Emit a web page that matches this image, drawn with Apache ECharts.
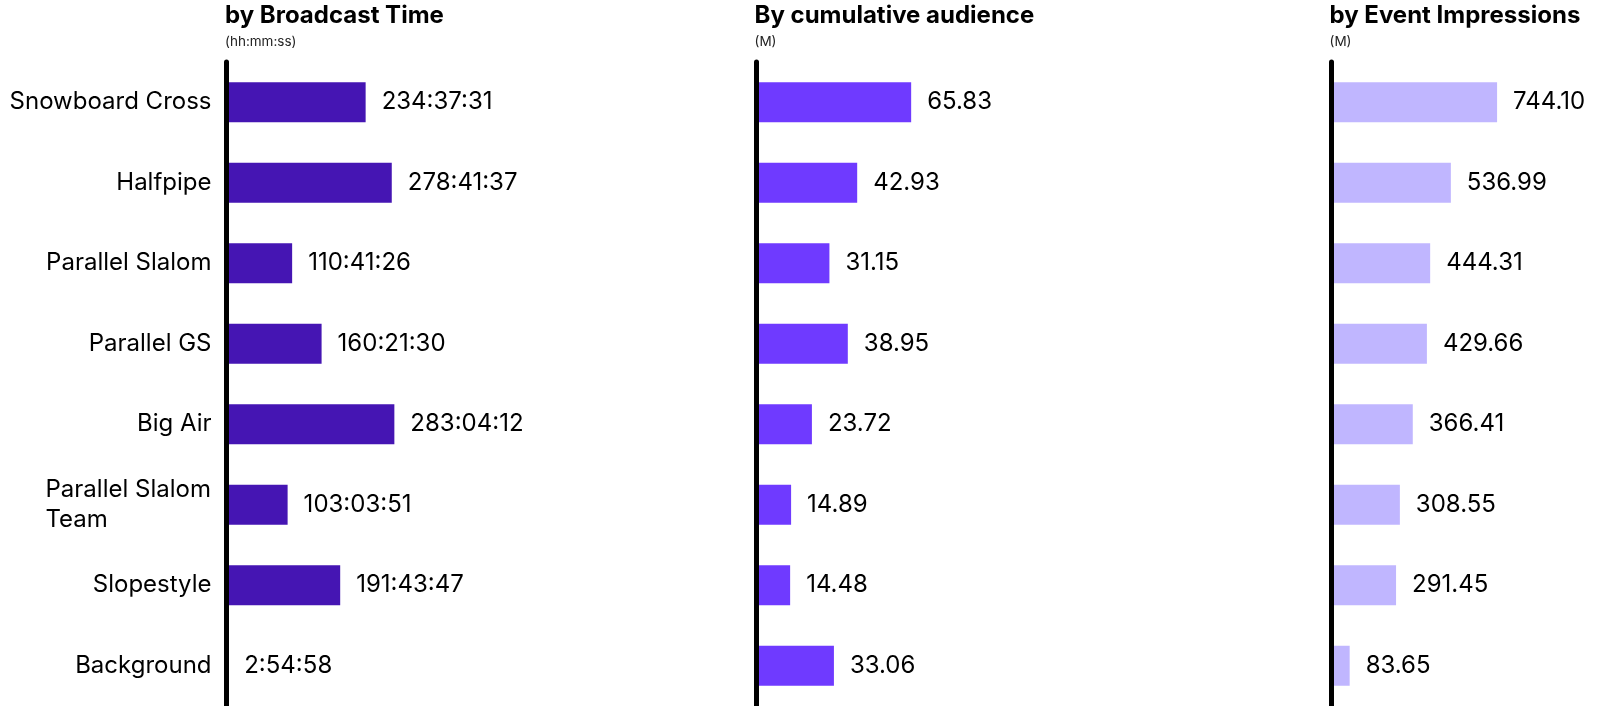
<!DOCTYPE html>
<html>
<head>
<meta charset="utf-8">
<title>Snowboard events</title>
<script src="https://cdn.jsdelivr.net/npm/echarts@6/dist/echarts.min.js"></script>
<style>
  html, body { margin: 0; padding: 0; background: #ffffff; }
  #chart { width: 1598px; height: 706px; }
</style>
</head>
<body>
<div id="chart"></div>
<script>
// Event categories, top to bottom
const categories = [
  'Snowboard Cross',
  'Halfpipe',
  'Parallel Slalom',
  'Parallel GS',
  'Big Air',
  'Parallel Slalom Team',
  'Slopestyle',
  'Background'
];

// Broadcast time per event (hh:mm:ss)
const broadcastTime = [
  '234:37:31', '278:41:37', '110:41:26', '160:21:30',
  '283:04:12', '103:03:51', '191:43:47', '2:54:58'
];

// Cumulative audience (M)
const cumulativeAudience = [65.83, 42.93, 31.15, 38.95, 23.72, 14.89, 14.48, 33.06];

// Event impressions (M)
const eventImpressions = [744.10, 536.99, 444.31, 429.66, 366.41, 308.55, 291.45, 83.65];

// hh:mm:ss -> hours, so the bar length follows the printed duration
function toHours(t) {
  const p = t.split(':').map(Number);
  return p[0] + p[1] / 60 + p[2] / 3600;
}

const FONT = 'Inter, "Noto Sans", sans-serif';
const LABEL_SIZE = 24;
const LINE_H = 30;

// width of the widest line of a wrapped category label
function textWidth(str) {
  const ctx = document.createElement('canvas').getContext('2d');
  ctx.font = LABEL_SIZE + 'px Inter';
  return Math.ceil(ctx.measureText(str).width);
}
const wrapWidth = textWidth('Parallel Slalom');

const panels = [
  { title: 'by Broadcast Time', sub: '(hh:mm:ss)', left: 226.5, width: 237.2, max: 400, color: '#4515b3',
    values: broadcastTime.map(toHours), labels: broadcastTime },
  { title: 'By cumulative audience', sub: '(M)', left: 756, width: 235.7, max: 100, color: '#6f3aff',
    values: cumulativeAudience, labels: cumulativeAudience.map(v => v.toFixed(2)) },
  { title: 'by Event Impressions', sub: '(M)', left: 1331, width: 223.2, max: 1000, color: '#c0b6ff',
    values: eventImpressions, labels: eventImpressions.map(v => v.toFixed(2)) }
];

const chart = echarts.init(document.getElementById('chart'), null, { renderer: 'canvas' });

chart.setOption({
  backgroundColor: '#ffffff',
  animation: false,
  textStyle: { fontFamily: FONT },
  title: panels.map(p => ({
    text: p.title,
    subtext: p.sub,
    left: p.left - 1.5,
    top: 4,
    padding: 0,
    itemGap: 7,
    textStyle: { fontFamily: FONT, fontSize: 24, fontWeight: 700, color: '#000' },
    subtextStyle: { fontFamily: FONT, fontSize: 13.5, color: '#222' }
  })),
  grid: panels.map(p => ({ left: p.left, width: p.width, top: 62, bottom: 0, containLabel: false })),
  xAxis: panels.map((p, i) => ({
    type: 'value', gridIndex: i, min: 0, max: p.max, show: false
  })),
  yAxis: panels.map((p, i) => ({
    type: 'category',
    gridIndex: i,
    data: categories,
    inverse: true,
    z: 5,
    axisTick: { show: false },
    splitLine: { show: false },
    axisLine: { show: true, lineStyle: { color: '#000', width: 5 } },
    axisLabel: {
      show: i === 0,
      margin: 15,
      color: '#000',
      fontFamily: FONT,
      fontSize: LABEL_SIZE,
      lineHeight: LINE_H,
      formatter: function (name) {
        if (name === 'Parallel Slalom Team') {
          return '{w|Parallel Slalom}\n{w|Team}';
        }
        return name;
      },
      rich: {
        w: { width: wrapWidth, align: 'left', fontFamily: FONT, fontSize: LABEL_SIZE, lineHeight: LINE_H, color: '#000' }
      }
    }
  })),
  series: panels.map((p, i) => ({
    type: 'bar',
    xAxisIndex: i,
    yAxisIndex: i,
    data: p.values,
    barWidth: 40,
    itemStyle: { color: p.color },
    z: 1,
    label: {
      show: true,
      position: 'right',
      distance: 16,
      color: '#000',
      fontFamily: FONT,
      fontSize: LABEL_SIZE,
      formatter: function (d) { return p.labels[d.dataIndex]; }
    }
  }))
});
</script>
</body>
</html>
